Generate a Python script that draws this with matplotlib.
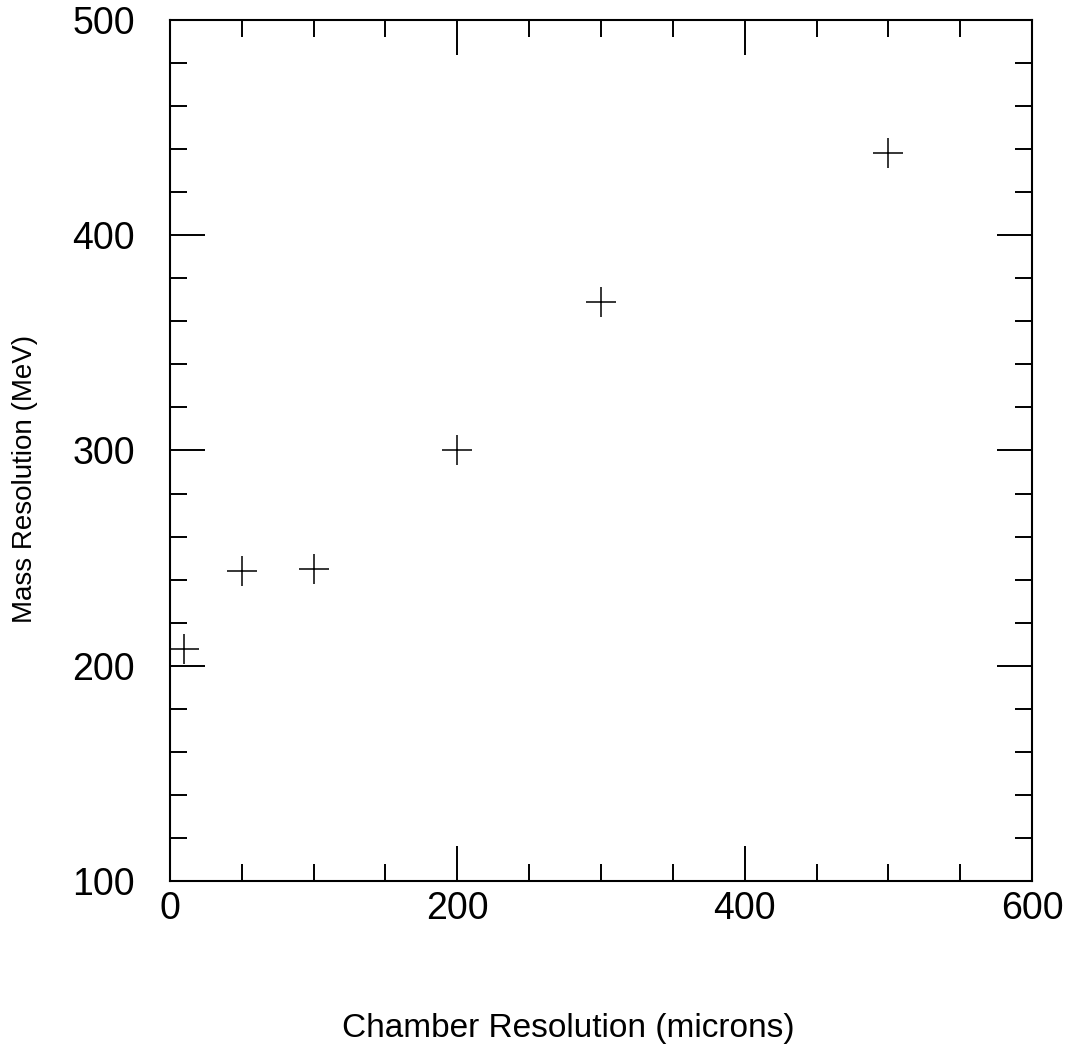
import matplotlib.pyplot as plt
from matplotlib.ticker import MultipleLocator

plt.rcParams['font.family'] = ['Liberation Sans', 'DejaVu Sans']

chamber_res = [10, 50, 100, 200, 300, 500]
mass_res = [208, 244, 245, 300, 369, 438]

fig = plt.figure(figsize=(10.69, 10.49), dpi=100)
ax = fig.add_axes([0.159, 0.1602, 0.8064, 0.8207])

ax.plot(chamber_res, mass_res, linestyle='none', marker='+', markersize=22,
        markeredgewidth=1.1, color='black', clip_on=False)

ax.set_xlim(0, 600)
ax.set_ylim(100, 500)
ax.xaxis.set_major_locator(MultipleLocator(200))
ax.xaxis.set_minor_locator(MultipleLocator(50))
ax.yaxis.set_major_locator(MultipleLocator(100))
ax.yaxis.set_minor_locator(MultipleLocator(20))

for s in ax.spines.values():
    s.set_linewidth(1.5)

ax.tick_params(which='both', direction='in', top=True, right=True, width=1.4)
ax.tick_params(which='major', length=25, labelsize=27)
ax.tick_params(which='minor', length=12)
ax.tick_params(axis='y', which='major', pad=25)
ax.tick_params(axis='x', which='major', pad=7)

# axis titles sit a bit off-centre in the original, so place them by hand
fig.text(0.532, 0.0115, 'Chamber Resolution (microns)', fontsize=24,
         ha='center', va='baseline')
fig.text(0.0235, 0.5434, 'Mass Resolution (MeV)', fontsize=20,
         rotation=90, ha='center', va='center')

fig.savefig('out.png', dpi=100)
